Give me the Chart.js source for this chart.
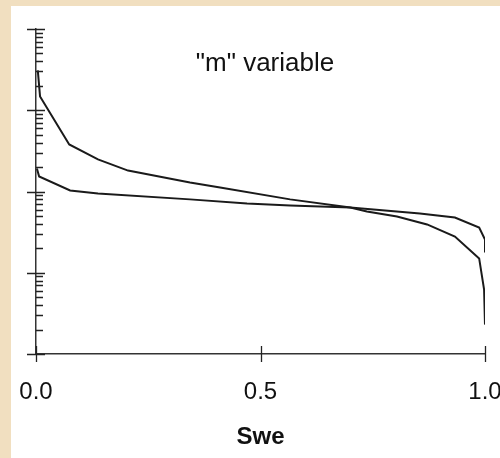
<!DOCTYPE html>
<html>
<head>
<meta charset="utf-8">
<script src="https://cdn.jsdelivr.net/npm/chart.js@4"></script>
<style>
  html, body { margin: 0; padding: 0; }
  body { width: 500px; height: 458px; background: #f1dfc0; position: relative; overflow: hidden; }
  #panel { position: absolute; left: 11px; top: 6px; width: 489px; height: 452px; background: #fff; overflow: hidden; }
</style>
</head>
<body>
<div id="panel"><canvas id="mChart" width="489" height="452"></canvas></div>
<script>
// steep curve
const sweA = [0.004, 0.009, 0.074, 0.138, 0.205, 0.343, 0.41, 0.566, 0.70, 0.737, 0.804, 0.871, 0.933, 0.987, 0.998, 1.0]
const mA   = [30.9, 14.8, 3.79, 2.48, 1.81, 1.29, 1.12, 0.80, 0.635, 0.567, 0.492, 0.393, 0.279, 0.150, 0.062, 0.023]
// flat curve
const sweB = [0.002, 0.007, 0.076, 0.138, 0.343, 0.47, 0.566, 0.70, 0.855, 0.933, 0.987, 1.0, 1.0]
const mB   = [1.92, 1.53, 1.03, 0.945, 0.80, 0.711, 0.673, 0.635, 0.536, 0.478, 0.36, 0.256, 0.177]

const xTicks = [0, 0.5, 1]
const decades = [0.01, 0.1, 1, 10, 100]

const FONT = "'Liberation Sans', Arial, sans-serif"

// ticks crossing the axes, minor log ticks on the inside
const axisTicks = {
  id: 'axisTicks',
  afterDraw(chart) {
    const { ctx, chartArea: a, scales: { x, y } } = chart
    ctx.save()
    ctx.strokeStyle = '#222'
    ctx.lineWidth = 1.3
    ctx.beginPath()
    decades.forEach((d, i) => {
      const py = Math.round(y.getPixelForValue(d)) + 0.5
      ctx.moveTo(a.left - 9, py); ctx.lineTo(a.left + 9, py)
      if (i < decades.length - 1) {
        for (let m = 2; m <= 9; m++) {
          const p = Math.round(y.getPixelForValue(d * m)) + 0.5
          ctx.moveTo(a.left, p); ctx.lineTo(a.left + 7, p)
        }
      }
    })
    xTicks.forEach(v => {
      const px = Math.round(x.getPixelForValue(v)) + 0.5
      ctx.moveTo(px, a.bottom - 8); ctx.lineTo(px, a.bottom + 8)
    })
    ctx.stroke()

    ctx.fillStyle = '#111'
    ctx.font = '26px ' + FONT
    ctx.textAlign = 'center'
    ctx.textBaseline = 'middle'
    ctx.fillText('"m" variable', a.left + 229, a.top + 35)
    ctx.restore()
  }
}

const line = (xs, ys) => xs.map((v, i) => ({ x: v, y: ys[i] }))

new Chart(document.getElementById('mChart'), {
  type: 'line',
  data: {
    datasets: [
      { data: line(sweA, mA), borderColor: '#1a1a1a', borderWidth: 2, pointRadius: 0, tension: 0 },
      { data: line(sweB, mB), borderColor: '#1a1a1a', borderWidth: 2, pointRadius: 0, tension: 0 }
    ]
  },
  options: {
    responsive: false,
    animation: false,
    layout: { padding: { left: 25, top: 23, right: 15, bottom: 0 } },
    plugins: { legend: { display: false }, tooltip: { enabled: false } },
    scales: {
      x: {
        type: 'linear', min: 0, max: 1,
        afterBuildTicks: s => { s.ticks = xTicks.map(v => ({ value: v })) },
        afterFit: s => { s.paddingLeft = 0; s.paddingRight = 0; s.height = 104 },
        ticks: { color: '#111', font: { family: FONT, size: 24 }, padding: 24, maxRotation: 0,
                 callback: v => v.toFixed(1) },
        grid: { drawOnChartArea: false, drawTicks: false },
        border: { display: true, color: '#333', width: 1.5 },
        title: { display: true, text: 'Swe', color: '#111', font: { family: FONT, size: 24, weight: 'bold' },
                 padding: { top: 0, bottom: 6 } }
      },
      y: {
        type: 'logarithmic', min: 0.01, max: 100,
        afterFit: s => { s.width = 0; s.paddingTop = 0; s.paddingBottom = 0 },
        ticks: { display: false },
        grid: { drawOnChartArea: false, drawTicks: false },
        border: { display: true, color: '#333', width: 1.5 }
      }
    }
  },
  plugins: [axisTicks]
})
</script>
</body>
</html>
